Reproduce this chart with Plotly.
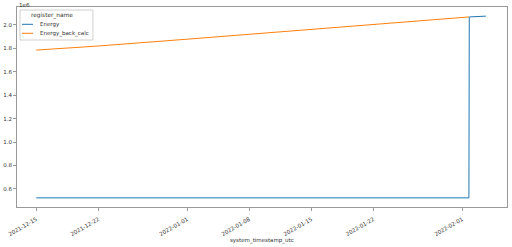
import plotly.graph_objects as go

# Data
energy_dates = ["2021-12-15 00:00", "2022-02-01 18:00", "2022-02-01 19:00", "2022-02-03 16:00"]
energy_vals = [523000, 523000, 2068000, 2075000]

back_dates = ["2021-12-15", "2021-12-22", "2022-01-01", "2022-01-08", "2022-01-15",
              "2022-01-22", "2022-01-30 20:00", "2022-02-01 18:00"]
back_vals = [1785000, 1820000, 1878000, 1920000, 1960000, 2001000, 2057000, 2068000]

x_ticks = ["2021-12-15", "2021-12-22", "2022-01-01", "2022-01-08", "2022-01-15",
           "2022-01-22", "2022-02-01"]
y_ticks = [0.6e6, 0.8e6, 1.0e6, 1.2e6, 1.4e6, 1.6e6, 1.8e6, 2.0e6]
y_ticktext = [f"{v/1e6:.1f}" for v in y_ticks]

series_names = ["Energy", "Energy_back_calc"]
series_colors = ["#1f77b4", "#ff7f0e"]
legend_title = "register_name"

fig = go.Figure()
fig.add_trace(go.Scatter(x=energy_dates, y=energy_vals, mode="lines", name=series_names[0],
                         line=dict(color=series_colors[0], width=1)))
fig.add_trace(go.Scatter(x=back_dates, y=back_vals, mode="lines", name=series_names[1],
                         line=dict(color=series_colors[1], width=1)))

font = "DejaVu Sans"
txt = "#333"
tick_font = dict(family=font, size=5.5, color=txt)

# Manual compact legend (matplotlib style)
shapes = [dict(type="rect", xref="paper", yref="paper", x0=0.0061, x1=0.155, y0=0.835, y1=0.985,
               line=dict(color="#d0d0d0", width=1), fillcolor="rgba(255,255,255,0.8)", layer="above")]
annotations = [dict(text=legend_title, x=0.0724, y=0.96, xref="paper", yref="paper",
                    xanchor="center", yanchor="middle", showarrow=False,
                    font=dict(family=font, size=5.8, color=txt))]
legend_ys = [0.9135, 0.8685]
for name, color, ly in zip(series_names, series_colors, legend_ys):
    shapes.append(dict(type="line", xref="paper", yref="paper", x0=0.0102, x1=0.0327, y0=ly, y1=ly,
                       line=dict(color=color, width=1), layer="above"))
    annotations.append(dict(text=name, x=0.0429, y=ly, xref="paper", yref="paper",
                            xanchor="left", yanchor="middle", showarrow=False,
                            font=dict(family=font, size=5.5, color=txt)))

annotations += [
    dict(text="1e6", x=0, y=1, xref="paper", yref="paper", xanchor="left",
         yanchor="bottom", showarrow=False, font=dict(family=font, size=5.5, color=txt), yshift=-3),
    dict(text="system_timestamp_utc", x=0.5, y=0, xref="paper", yref="paper",
         xanchor="center", yanchor="middle", yshift=-33, showarrow=False,
         font=dict(family=font, size=5.5, color=txt)),
]

fig.update_layout(
    width=512, height=247,
    margin=dict(l=17, r=5, t=7, b=40),
    paper_bgcolor="white", plot_bgcolor="white",
    font=dict(family=font, size=5.5, color=txt),
    showlegend=False,
    xaxis=dict(
        type="date",
        range=["2021-12-12 20:00", "2022-02-06 01:00"],
        tickvals=x_ticks, tickformat="%Y-%m-%d", tickangle=-30,
        ticklabeloverflow="allow", ticklabelstandoff=3,
        showgrid=False, zeroline=False,
        showline=True, linecolor="#999", linewidth=1, mirror=True,
        ticks="outside", ticklen=3, tickcolor="#999",
        tickfont=tick_font,
        automargin=False,
    ),
    yaxis=dict(
        range=[445000, 2153000],
        tickvals=y_ticks, ticktext=y_ticktext,
        ticklabeloverflow="allow",
        showgrid=False, zeroline=False,
        showline=True, linecolor="#999", linewidth=1, mirror=True,
        ticks="outside", ticklen=3, tickcolor="#999",
        tickfont=tick_font,
        automargin=False,
    ),
    shapes=shapes,
    annotations=annotations,
)

fig.write_html("out.html")
